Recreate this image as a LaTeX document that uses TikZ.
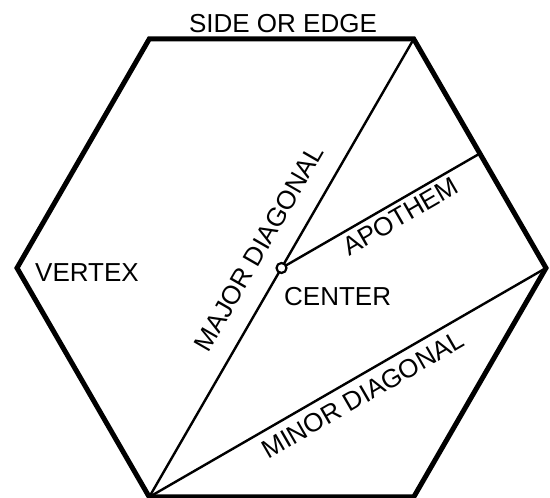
\documentclass[tikz,border=0pt]{standalone}
\usepackage{fontspec}
\setmainfont{Liberation Sans}
\usetikzlibrary{calc}
\begin{document}
\begin{tikzpicture}[x=1pt,y=1pt,
  hexline/.style={line width=5pt,line join=miter},
  thinline/.style={line width=2.4pt},
  lbl/.style={inner sep=0pt,font=\fontsize{26}{26}\selectfont}]
\useasboundingbox (0,0) rectangle (550,498);
% vertices
\coordinate (C) at (281.5,230);
\coordinate (V0) at (546,230);
\coordinate (V1) at (413.75,459);
\coordinate (V2) at (149.25,459);
\coordinate (V3) at (17,230);
\coordinate (V4) at (149.25,1);
\coordinate (V5) at (413.75,1);
\coordinate (M01) at ($(V0)!0.5!(V1)$);
% inner lines
\draw[thinline] (V1) -- (V4);
\draw[thinline] (C) -- (M01);
\draw[thinline] (V4) -- (V0);
% hexagon
\draw[hexline] (V0) -- (V1) -- (V2) -- (V3) -- (V4) -- (V5) -- cycle;
% center dot
\node[circle,draw,fill=white,line width=2.2pt,minimum size=10pt,inner sep=0pt] (dot) at (C) {};
% labels
\node[lbl] (side) at (283,474) {SIDE OR EDGE};
\node[lbl,anchor=west] (vertex) at (35,225.5) {VERTEX};
\node[lbl,anchor=west] (center) at (284,201.5) {CENTER};
\node[lbl,rotate=60] (major) at (259,250) {MAJOR DIAGONAL};
\node[lbl,rotate=30] (apothem) at (400.5,281.5) {APOTHEM};
\node[lbl,rotate=30] (minor) at (363,103) {MINOR DIAGONAL};
\end{tikzpicture}
\end{document}
